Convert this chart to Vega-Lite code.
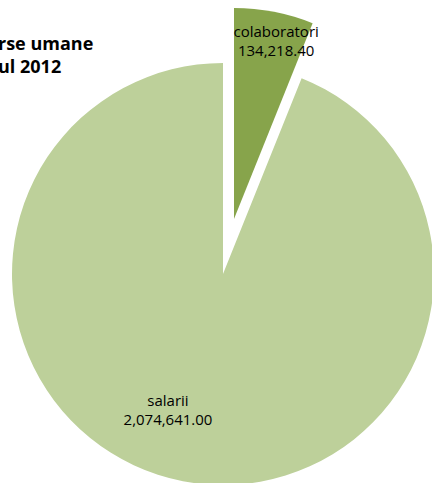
{
  "$schema": "https://vega.github.io/schema/vega-lite/v6.json",
  "width": 422,
  "height": 422,
  "autosize": {"type": "none"},
  "padding": {"left": 12, "top": 63, "right": 0, "bottom": 0},
  "background": "#ffffff",
  "title": {
    "text": ["rse umane", "ul 2012"],
    "anchor": "start",
    "frame": "group",
    "font": "Open Sans",
    "fontSize": 18,
    "fontWeight": "bold",
    "color": "#000000",
    "lineHeight": 23,
    "dx": -14,
    "dy": 69,
    "offset": 0
  },
  "data": {
    "values": [
      {"categorie": "colaboratori", "valoare": 134218.40},
      {"categorie": "salarii", "valoare": 2074641.00}
    ]
  },
  "encoding": {
    "theta": {"field": "valoare", "type": "quantitative", "stack": true},
    "order": {"field": "categorie", "sort": "ascending"}
  },
  "layer": [
    {
      "mark": {"type": "arc", "radius": 211},
      "encoding": {
        "fill": {"condition": {"test": "datum.categorie === 'salarii'", "value": "#BDD09A"}, "value": "transparent"}
      }
    },
    {
      "mark": {"type": "arc", "radius": 211, "xOffset": 11, "yOffset": -55},
      "encoding": {
        "fill": {"condition": {"test": "datum.categorie === 'colaboratori'", "value": "#87A44B"}, "value": "transparent"}
      }
    },
    {
      "mark": {"type": "text", "radius": 137, "dx": -29, "dy": -8, "font": "Open Sans", "fontSize": 15, "color": "#000000"},
      "encoding": {
        "text": {"condition": {"test": "datum.categorie === 'salarii'", "field": "categorie"}, "value": ""}
      }
    },
    {
      "mark": {"type": "text", "radius": 137, "dx": -29, "dy": 11, "font": "Open Sans", "fontSize": 15, "color": "#000000"},
      "encoding": {
        "text": {"condition": {"test": "datum.categorie === 'salarii'", "field": "valoare", "format": ",.2f"}, "value": ""}
      }
    },
    {
      "mark": {"type": "text", "radius": 180, "dx": 19, "dy": -65, "font": "Open Sans", "fontSize": 15, "color": "#000000"},
      "encoding": {
        "text": {"condition": {"test": "datum.categorie === 'colaboratori'", "field": "categorie"}, "value": ""}
      }
    },
    {
      "mark": {"type": "text", "radius": 180, "dx": 19, "dy": -46, "font": "Open Sans", "fontSize": 15, "color": "#000000"},
      "encoding": {
        "text": {"condition": {"test": "datum.categorie === 'colaboratori'", "field": "valoare", "format": ",.2f"}, "value": ""}
      }
    }
  ],
  "config": {"view": {"stroke": null}}
}
